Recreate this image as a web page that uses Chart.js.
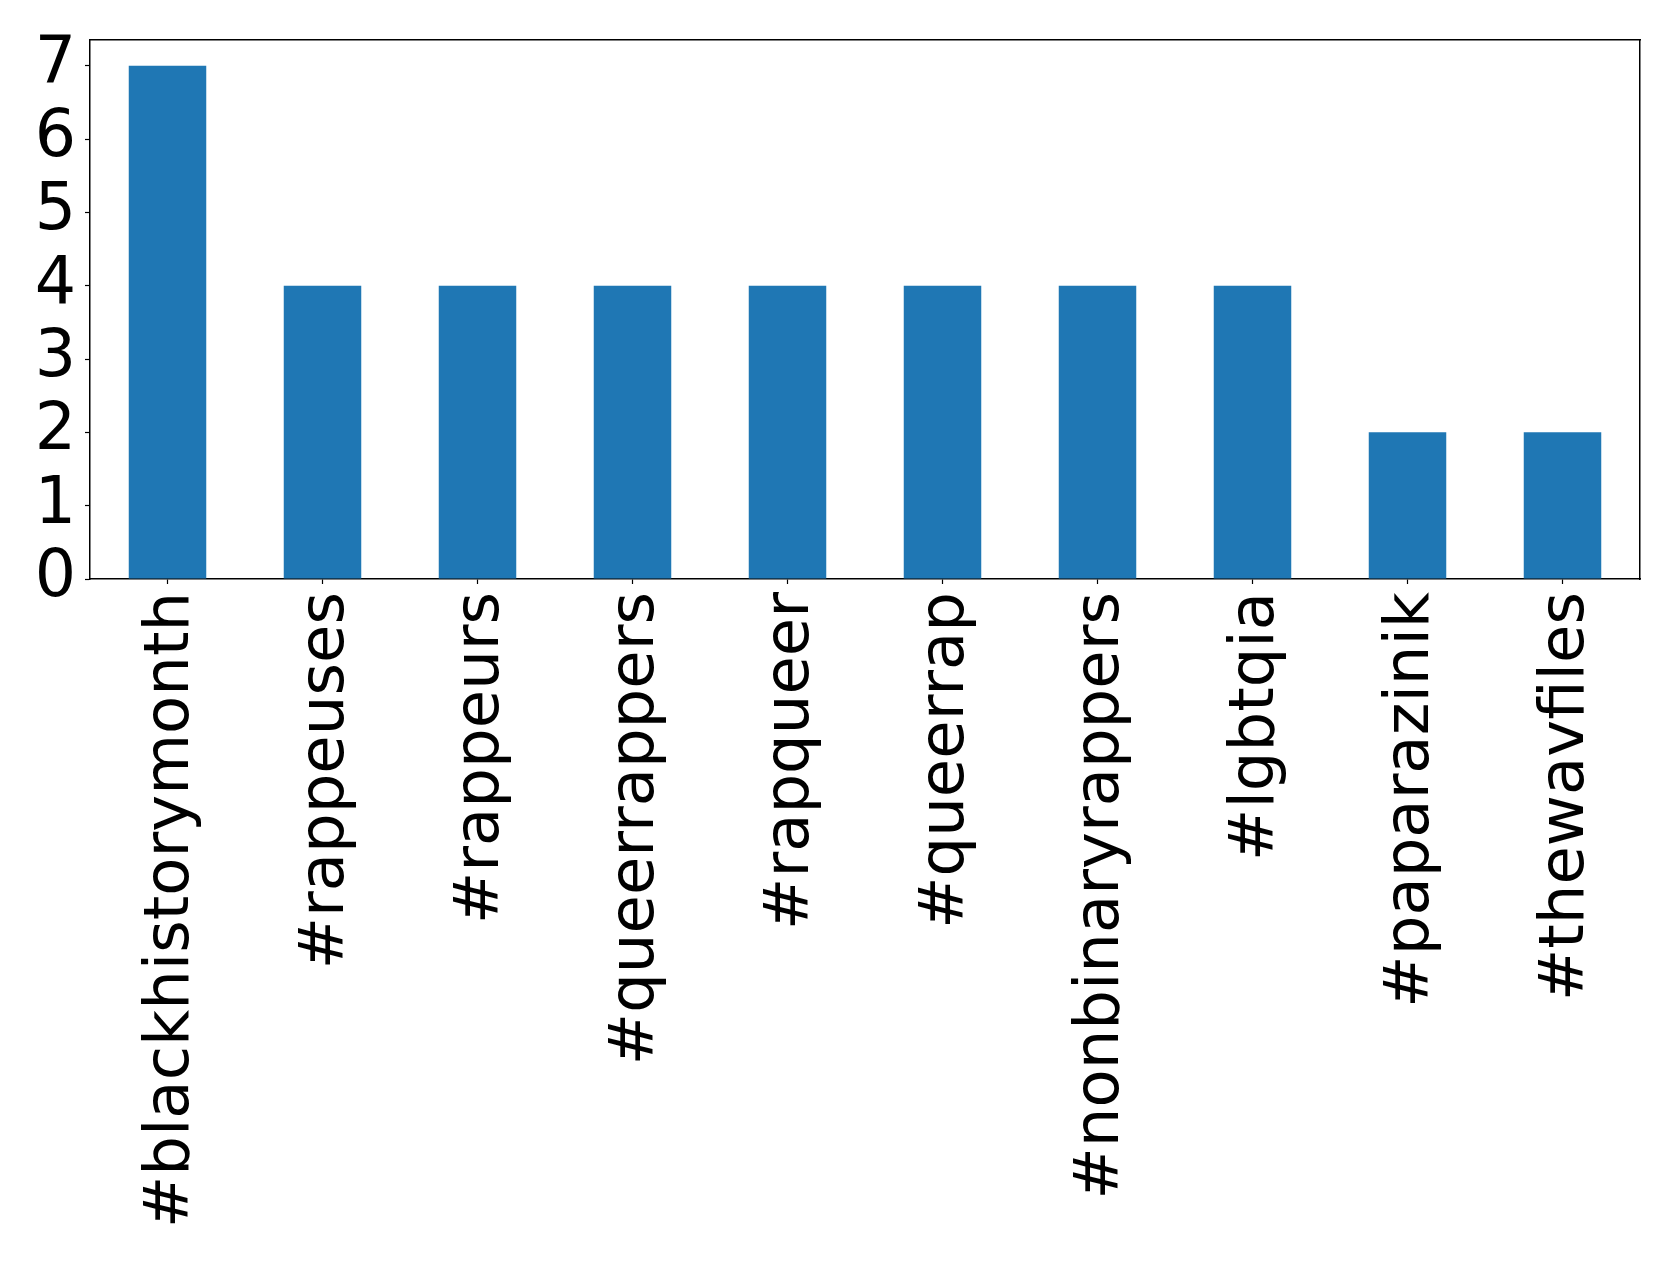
<!DOCTYPE html>
<html>
<head>
<meta charset="utf-8">
<script src="https://cdn.jsdelivr.net/npm/chart.js@4"></script>
<style>
  html, body { margin: 0; padding: 0; background: #fff; }
  #wrap { width: 1679px; height: 1264px; }
</style>
</head>
<body>
<div id="wrap"><canvas id="myChart" width="1679" height="1264"></canvas></div>
<script>
const labels = [
  '#blackhistorymonth', '#rappeuses', '#rappeurs', '#queerrappers', '#rapqueer',
  '#queerrap', '#nonbinaryrappers', '#lgbtqia', '#paparazinik', '#thewavfiles'
];
const counts = [7, 4, 4, 4, 4, 4, 4, 4, 2, 2];
const yTicks = [0, 1, 2, 3, 4, 5, 6, 7];

const xFont = { family: 'DejaVu Sans', size: 62.5 };
const yFont = { family: 'DejaVu Sans', size: 65 };

const ctx = document.getElementById('myChart').getContext('2d');

const frameAxis = (extra) => Object.assign({
  display: true,
  grid: { display: false, drawTicks: false },
  border: { display: true, color: '#000', width: 1.5 },
  ticks: { display: false }
}, extra);

const config = {
  type: 'bar',
  data: {
    labels,
    datasets: [{
      data: counts,
      backgroundColor: '#1f77b4',
      borderWidth: 0,
      categoryPercentage: 1,
      barPercentage: 0.5
    }]
  },
  options: {
    responsive: false,
    animation: false,
    layout: { padding: { left: 0, top: 40, right: 39, bottom: 0 } },
    plugins: { legend: { display: false }, tooltip: { enabled: false } },
    scales: {
      x: {
        offset: true,
        grid: { display: true, drawOnChartArea: false, drawTicks: true, tickLength: 5, tickWidth: 1.2, tickColor: '#000', offset: false },
        border: { display: true, color: '#000', width: 1.5 },
        ticks: { color: '#000', font: xFont, minRotation: 90, maxRotation: 90, autoSkip: false, padding: 8, labelOffset: 4 },
        afterFit: (s) => { s.height = 685; s.paddingLeft = 0; s.paddingRight = 0; }
      },
      y: {
        min: 0,
        max: 7.35,
        grid: { display: true, drawOnChartArea: false, drawTicks: true, tickLength: 5, tickWidth: 1.2, tickColor: '#000' },
        border: { display: true, color: '#000', width: 1.5 },
        ticks: { color: '#000', font: yFont, padding: 9, autoSkip: false },
        afterBuildTicks: (s) => { s.ticks = yTicks.map(v => ({ value: v })); },
        afterFit: (s) => { s.width = 90; s.paddingTop = 0; s.paddingBottom = 0; }
      },
      xTop: frameAxis({ type: 'category', position: 'top', afterFit: (s) => { s.height = 0; } }),
      yRight: frameAxis({ type: 'linear', position: 'right', afterFit: (s) => { s.width = 0; } })
    }
  }
};

const myChart = new Chart(ctx, config);
</script>
</body>
</html>
